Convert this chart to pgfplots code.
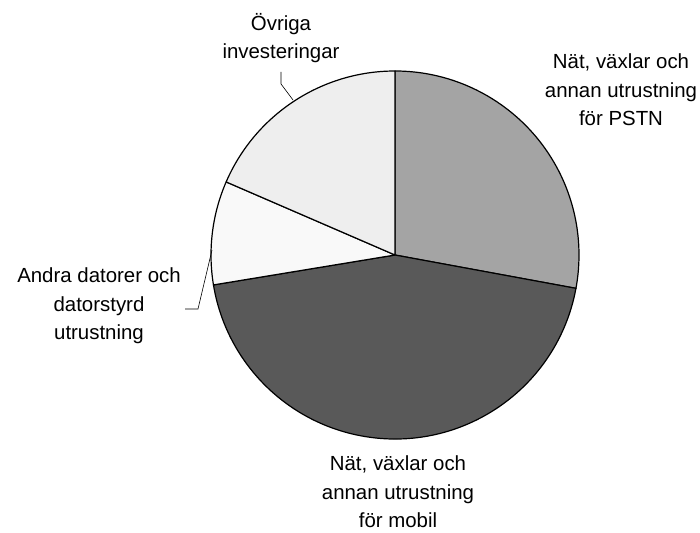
\documentclass[border=0pt]{standalone}
\usepackage{pgfplots}
\pgfplotsset{compat=1.18}
\usepackage{pgfplotstable}
\usepackage{fontspec}
\setmainfont{Liberation Sans}
\definecolor{cPSTN}{HTML}{A4A4A4}
\definecolor{cMobil}{HTML}{595959}
\definecolor{cAndra}{HTML}{F9F9F9}
\definecolor{cOvriga}{HTML}{EEEEEE}
\pgfplotstableread{
slice value
PSTN 27.9
Mobil 44.5
Andra 9.1
Ovriga 18.5
}\piedata
\pgfplotstablegetelem{0}{value}\of\piedata \let\vA\pgfplotsretval
\pgfplotstablegetelem{1}{value}\of\piedata \let\vB\pgfplotsretval
\pgfplotstablegetelem{2}{value}\of\piedata \let\vC\pgfplotsretval
\pgfplotstablegetelem{3}{value}\of\piedata \let\vD\pgfplotsretval
\pgfmathsetmacro{\aA}{90}
\pgfmathsetmacro{\aB}{\aA-3.6*\vA}
\pgfmathsetmacro{\aC}{\aB-3.6*\vB}
\pgfmathsetmacro{\aD}{\aC-3.6*\vC}
\pgfmathsetmacro{\aE}{\aD-3.6*\vD}
\newcommand{\lblfont}{\fontsize{20.5}{28.5}\selectfont}
\begin{document}
\begin{tikzpicture}
\begin{axis}[
  width=700bp, height=532bp, scale only axis,
  xmin=0, xmax=700, ymin=-532, ymax=0,
  hide axis, clip=false,
]
\path (axis cs:0,0) rectangle (axis cs:700,-532);
\filldraw[fill=cPSTN, draw=black, line width=1.2bp, line join=round]
  (axis cs:395,-255) -- ++(\aA:184bp) arc[start angle=\aA, end angle=\aB, radius=184bp] -- cycle;
\filldraw[fill=cMobil, draw=black, line width=1.2bp, line join=round]
  (axis cs:395,-255) -- ++(\aB:184bp) arc[start angle=\aB, end angle=\aC, radius=184bp] -- cycle;
\filldraw[fill=cAndra, draw=black, line width=1.2bp, line join=round]
  (axis cs:395,-255) -- ++(\aC:184bp) arc[start angle=\aC, end angle=\aD, radius=184bp] -- cycle;
\filldraw[fill=cOvriga, draw=black, line width=1.2bp, line join=round]
  (axis cs:395,-255) -- ++(\aD:184bp) arc[start angle=\aD, end angle=\aE, radius=184bp] -- cycle;
\draw[line width=0.6bp] (axis cs:281,-72) -- (axis cs:281,-84) -- (axis cs:293,-100);
\draw[line width=0.6bp] (axis cs:185,-309) -- (axis cs:198,-309) -- (axis cs:212,-250);
\node[align=center, inner sep=0pt, font=\lblfont] at (axis cs:621,-90) {Nät, växlar och\\annan utrustning\\för PSTN};
\node[align=center, inner sep=0pt, font=\lblfont] at (axis cs:398,-492) {Nät, växlar och\\annan utrustning\\för mobil};
\node[align=center, inner sep=0pt, font=\lblfont] at (axis cs:99,-306) {Andra datorer och\\datorstyrd\\utrustning};
\node[align=center, inner sep=0pt, font=\lblfont] at (axis cs:281,-38) {Övriga\\investeringar};
\end{axis}
\end{tikzpicture}
\end{document}
